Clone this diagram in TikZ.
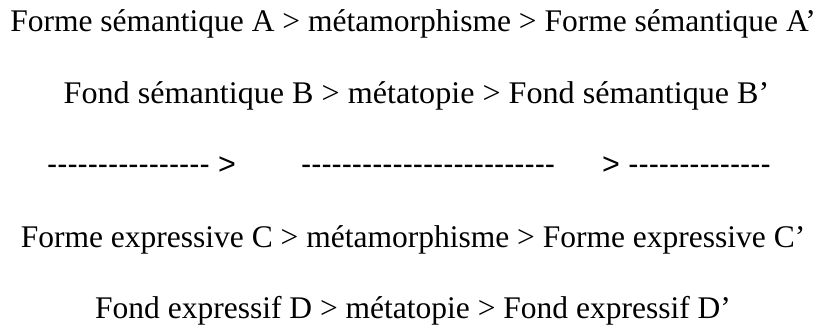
\documentclass[tikz,border=0pt]{standalone}
\usepackage{fontspec}
\setmainfont{Liberation Serif}[Ligatures=TeXOff]
\newfontfamily\dashfont{Liberation Sans}[Ligatures=TeXOff]
\begin{document}
\begin{tikzpicture}[x=1pt,y=1pt,
  line/.style={anchor=base,inner sep=0pt,font=\fontsize{31.5}{36}\selectfont},
  dashrow/.style={anchor=base west,inner sep=0pt,font=\dashfont\fontsize{30.5}{36}\selectfont}]
\useasboundingbox (0,0) rectangle (821,329);
\node[line] (l1) at (413,297) {Forme sémantique A > métamorphisme > Forme sémantique A’};
\node[line,xscale=1.02] (l2) at (416.5,225.25) {Fond sémantique B > métatopie > Fond sémantique B’};
\node[dashrow] (l3a) at (47,154) {---------------- >};
\node[dashrow] (l3b) at (301,154) {-------------------------};
\node[dashrow] (l3c) at (602,154) {> --------------};
\node[line] (l4) at (413,81.75) {Forme expressive C > métamorphisme > Forme expressive C’};
\node[line] (l5) at (413,10) {Fond expressif D > métatopie > Fond expressif D’};
\end{tikzpicture}
\end{document}
